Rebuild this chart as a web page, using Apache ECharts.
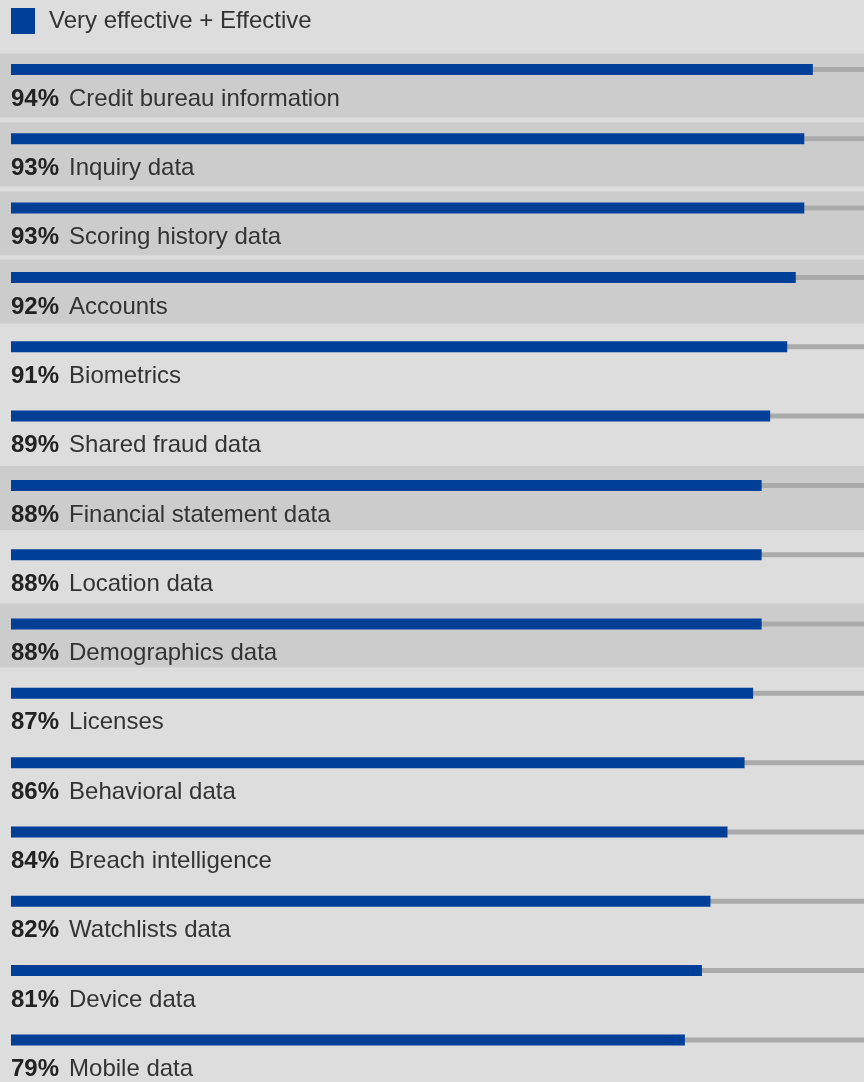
<!DOCTYPE html>
<html>
<head>
<meta charset="utf-8">
<script src="https://cdn.jsdelivr.net/npm/echarts@6/dist/echarts.min.js"></script>
<style>
html, body { margin: 0; padding: 0; background: #dddddd; }
#mychart { width: 864px; height: 1082px; }
</style>
</head>
<body>
<div id="mychart"></div>
<script>
var domchart = document.getElementById("mychart");

// data
var categories = ['Credit bureau information', 'Inquiry data', 'Scoring history data', 'Accounts',
    'Biometrics', 'Shared fraud data', 'Financial statement data', 'Location data',
    'Demographics data', 'Licenses', 'Behavioral data', 'Breach intelligence',
    'Watchlists data', 'Device data', 'Mobile data'];
var values = [94, 93, 93, 92, 91, 89, 88, 88, 88, 87, 86, 84, 82, 81, 79];
var shaded = [1, 1, 1, 1, 0, 0, 1, 0, 1, 0, 0, 0, 0, 0, 0];
var seriesName = 'Very effective + Effective';

var blue = '#003f98';
var font = "'Liberation Sans', Helvetica, Arial, sans-serif";

var trackData = categories.map(function () { return 100; });
var bandData = shaded.map(function (s) { return s ? 100 : '-'; });

var option = {
    backgroundColor: '#dddddd',
    animation: false,
    legend: {
        data: [seriesName],
        left: 11,
        top: 8,
        padding: 0,
        itemWidth: 24,
        itemHeight: 26,
        icon: 'rect',
        selectedMode: false,
        textStyle: {
            fontFamily: font,
            fontSize: 24,
            color: '#333',
            padding: [6, 0, 0, 9]
        }
    },
    grid: [
        { left: 11, right: -1, top: 34.8, bottom: 7.4 },
        { left: 0, right: 0, top: 51.4, bottom: -8.2 }
    ],
    xAxis: [
        { type: 'value', gridIndex: 0, min: 0, max: 100, show: false },
        { type: 'value', gridIndex: 1, min: 0, max: 100, show: false }
    ],
    yAxis: [
        { type: 'category', gridIndex: 0, data: categories, inverse: true, show: false },
        { type: 'category', gridIndex: 0, data: categories, inverse: true, show: false },
        { type: 'category', gridIndex: 1, data: categories, inverse: true, show: false }
    ],
    series: [
        {
            // shaded row bands
            type: 'bar',
            xAxisIndex: 1,
            yAxisIndex: 2,
            data: bandData,
            barWidth: 64,
            silent: true,
            itemStyle: { color: '#cccccc' },
            z: 1
        },
        {
            // grey track + labels
            type: 'bar',
            xAxisIndex: 0,
            yAxisIndex: 1,
            data: trackData,
            barWidth: 5,
            silent: true,
            itemStyle: { color: '#aaaaaa' },
            z: 2,
            label: {
                show: true,
                position: 'insideLeft',
                distance: 0,
                offset: [0, 29.5],
                formatter: function (p) {
                    return '{p|' + values[p.dataIndex] + '%}{t|' + categories[p.dataIndex] + '}';
                },
                rich: {
                    p: { fontFamily: font, fontSize: 24, fontWeight: 'bold', color: '#222' },
                    t: { fontFamily: font, fontSize: 24, color: '#333', padding: [0, 0, 0, 10] }
                }
            }
        },
        {
            name: seriesName,
            type: 'bar',
            xAxisIndex: 0,
            yAxisIndex: 0,
            data: values,
            barWidth: 11,
            silent: true,
            itemStyle: { color: blue },
            z: 3
        }
    ]
};

var chart = echarts.init(domchart);
chart.setOption(option);
</script>
</body>
</html>
